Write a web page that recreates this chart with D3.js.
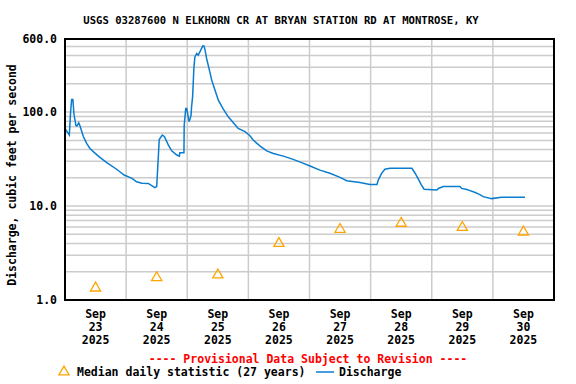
<!DOCTYPE html>
<html>
<head>
<meta charset="utf-8">
<script src="https://cdn.jsdelivr.net/npm/d3@7"></script>
<style>
  body { margin: 0; background: #fff; }
  text { font-family: "DejaVu Sans Mono", monospace; font-weight: bold; }
</style>
</head>
<body>
<svg width="576" height="384"></svg>
<script>
var svg = d3.select("svg");

// hours after Sep 23 2025 00:00, discharge in cfs
var dischargeHours = [0, 0.8, 1.7, 2.2, 2.6, 3.1, 3.5, 4.3, 4.7, 5.4, 5.9, 7.2, 8.5, 9.8, 11.1, 13.7, 16.4, 20.4, 23.2, 26.3,
  28.1, 30.2, 32.7, 35.3, 36.0, 36.6, 37.0, 38.2, 39.0, 40.6, 41.9, 43.9, 44.9, 45.1, 46.7, 46.8, 47.4, 47.8, 48.7, 49.1,
  49.5, 49.7, 50.1, 50.6, 51.0, 51.7, 52.3, 53.3, 54.1, 54.6, 55.0, 55.6, 56.7, 57.6, 58.9, 60.2, 62.1, 64.1, 66.1, 68.0,
  70.7, 72.6, 73.9, 76.6, 79.2, 81.8, 85.7, 89.6, 92.9, 96.2, 100.1, 104.0, 108.0, 110.6, 115.8, 119.7, 122.5, 123.0, 124.3, 125.6,
  127.6, 136.2, 137.4, 138.7, 139.8, 141.0, 146.0, 146.6, 148.5, 155.1, 155.7, 157.8, 159.0, 160.6, 162.5, 164.2, 167.5, 171.4, 180.6];
var dischargeValues = [67, 62, 57, 100, 136, 136, 96, 72, 71, 77, 71, 55, 46.4, 41, 38, 33, 29, 24.5, 21.4, 19.7,
  18.1, 17.5, 17.4, 15.7, 16.1, 32, 51, 57, 55, 44.5, 38.7, 34.9, 34, 37, 37, 72, 109, 109, 79, 85,
  93, 114, 145, 292, 387, 421, 404, 457, 507, 503, 457, 372, 280, 219, 171, 134, 108, 89, 77, 67,
  62, 56, 50.4, 43.5, 38.7, 36.3, 34, 31.4, 29, 26.7, 24.1, 22.3, 20.2, 18.6, 17.8, 17.0, 17.0, 18.9, 22.3, 24.7,
  25.2, 25.2, 22.5, 19.5, 17, 15.1, 14.8, 15.4, 16.1, 16.1, 15.4, 15.0, 14.6, 14.1, 13.4, 12.6, 12.0, 12.4, 12.4];

var medianDays = [23, 24, 25, 26, 27, 28, 29, 30];
var medianValues = [1.34, 1.73, 1.85, 4.0, 5.65, 6.55, 5.93, 5.29];

var dayLabels = ["23", "24", "25", "26", "27", "28", "29", "30"];
var yTickValues = [1, 10, 100, 600];
var yGridValues = [2, 3, 4, 5, 6, 7, 8, 9, 10, 20, 30, 40, 50, 60, 70, 80, 90, 100, 200, 300, 400, 500];

var startDate = new Date(2025, 8, 23);
var endDate = new Date(2025, 9, 1);
var hourMs = 3600000;

var plotLeft = 65, plotRight = 554, plotTop = 39, plotBottom = 300;

var x = d3.scaleTime().domain([startDate, endDate]).range([plotLeft, plotRight]);
var y = d3.scaleLog().domain([1, 600]).range([plotBottom, plotTop]);

// gridlines
svg.append("g").selectAll("line")
   .data(yGridValues)
   .enter().append("line")
   .attr("x1", plotLeft).attr("x2", plotRight)
   .attr("y1", function(d) { return y(d); })
   .attr("y2", function(d) { return y(d); })
   .attr("stroke", "#cccccc")
   .attr("stroke-width", 1.5);

var midnights = d3.timeDay.range(d3.timeDay.offset(startDate, 1), endDate);
svg.append("g").selectAll("line")
   .data(midnights)
   .enter().append("line")
   .attr("x1", function(d) { return x(d); })
   .attr("x2", function(d) { return x(d); })
   .attr("y1", plotTop).attr("y2", plotBottom)
   .attr("stroke", "#cccccc")
   .attr("stroke-width", 1.5);

// discharge line
var discharge = dischargeHours.map(function(h, i) {
  return { date: new Date(startDate.getTime() + h * hourMs), value: dischargeValues[i] };
});

var line = d3.line()
   .x(function(d) { return x(d.date); })
   .y(function(d) { return y(d.value); });

svg.append("path")
   .datum(discharge)
   .attr("d", line)
   .attr("fill", "none")
   .attr("stroke", "#0a7ccf")
   .attr("stroke-width", 1.5);

// median triangles
var tri = d3.symbol().type(d3.symbolTriangle).size(45);
svg.append("g").selectAll("path")
   .data(medianDays)
   .enter().append("path")
   .attr("d", tri)
   .attr("transform", function(d, i) {
     return "translate(" + x(new Date(2025, 8, d, 12)) + "," + y(medianValues[i]) + ")";
   })
   .attr("fill", "none")
   .attr("stroke", "#ffa500")
   .attr("stroke-width", 1.3);

// frame
svg.append("rect")
   .attr("x", plotLeft).attr("y", plotTop)
   .attr("width", plotRight - plotLeft).attr("height", plotBottom - plotTop)
   .attr("fill", "none")
   .attr("stroke", "black")
   .attr("stroke-width", 2);

// y tick labels
svg.append("g").selectAll("text")
   .data(yTickValues)
   .enter().append("text")
   .attr("x", 57)
   .attr("y", function(d) { return y(d) + 4; })
   .attr("text-anchor", "end")
   .attr("font-size", 11.5)
   .text(function(d) { return d3.format(".1f")(d); });

// x tick labels
medianDays.forEach(function(d, i) {
  var cx = x(new Date(2025, 8, d, 12));
  var lines = ["Sep", dayLabels[i], "2025"];
  for (var k = 0; k < lines.length; k++) {
    svg.append("text")
       .attr("x", cx)
       .attr("y", 318 + k * 13)
       .attr("text-anchor", "middle")
       .attr("font-size", 11.5)
       .text(lines[k]);
  }
});

// title
svg.append("text")
   .attr("x", 281)
   .attr("y", 24)
   .attr("text-anchor", "middle")
   .attr("font-size", 10.6)
   .text("USGS 03287600 N ELKHORN CR AT BRYAN STATION RD AT MONTROSE, KY");

// y axis title
svg.append("text")
   .attr("transform", "translate(16,175) rotate(-90)")
   .attr("text-anchor", "middle")
   .attr("font-size", 11.5)
   .text("Discharge, cubic feet per second");

// provisional note
svg.append("text")
   .attr("x", 308)
   .attr("y", 363)
   .attr("text-anchor", "middle")
   .attr("font-size", 11.5)
   .attr("fill", "red")
   .text("---- Provisional Data Subject to Revision ----");

// legend
svg.append("path")
   .attr("d", tri)
   .attr("transform", "translate(64,372)")
   .attr("fill", "none")
   .attr("stroke", "#ffa500")
   .attr("stroke-width", 1.3);
svg.append("text")
   .attr("x", 77)
   .attr("y", 376)
   .attr("font-size", 11.5)
   .text("Median daily statistic (27 years)");
svg.append("line")
   .attr("x1", 316).attr("x2", 334)
   .attr("y1", 372).attr("y2", 372)
   .attr("stroke", "#0a7ccf")
   .attr("stroke-width", 1.5);
svg.append("text")
   .attr("x", 339)
   .attr("y", 376)
   .attr("font-size", 11.5)
   .text("Discharge");
</script>
</body>
</html>
